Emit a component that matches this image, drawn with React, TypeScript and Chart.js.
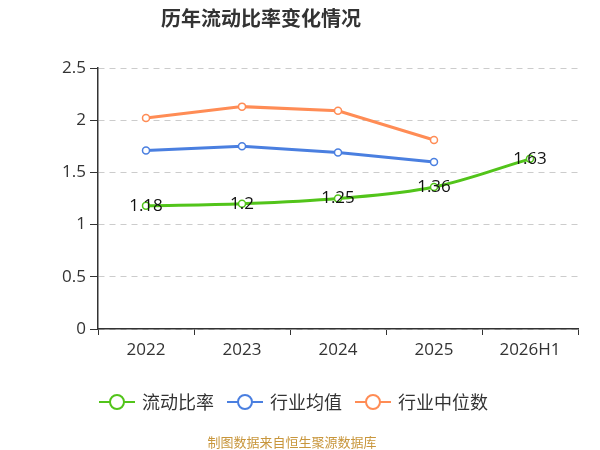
import { useEffect, useRef } from "react";
import { Chart, registerables } from "chart.js";

Chart.register(...registerables);

const years = ["2022", "2023", "2024", "2025", "2026H1"];
const currentRatio = [1.18, 1.2, 1.25, 1.36, 1.63];
const industryMean = [1.71, 1.75, 1.69, 1.6, null];
const industryMedian = [2.02, 2.13, 2.09, 1.81, null];
const yTicks = [0, 0.5, 1, 1.5, 2, 2.5];

const GREEN = "#52c41a";
const BLUE = "#4a7fe0";
const ORANGE = "#ff8c55";
const FONT = "'Open Sans', 'Noto Sans CJK SC', sans-serif";
const CJK = "'Noto Sans CJK SC', sans-serif";

const decorations = {
  id: "decorations",
  afterDatasetsDraw(chart: any) {
    const ctx = chart.ctx;
    // value labels on the main series
    const meta = chart.getDatasetMeta(0);
    ctx.save();
    ctx.font = `17px ${FONT}`;
    ctx.fillStyle = "#111";
    ctx.textAlign = "center";
    ctx.textBaseline = "middle";
    meta.data.forEach((pt: any, i: number) => {
      ctx.fillText(String(currentRatio[i]), pt.x, pt.y);
    });
    ctx.restore();
  },
  afterDraw(chart: any) {
    const ctx = chart.ctx;
    ctx.save();
    // title
    ctx.font = `bold 20px ${CJK}`;
    ctx.fillStyle = "#333";
    ctx.textAlign = "center";
    ctx.textBaseline = "middle";
    ctx.fillText("历年流动比率变化情况", 261, 18);

    // legend
    const items = [
      { label: "流动比率", color: GREEN, x: 99 },
      { label: "行业均值", color: BLUE, x: 227 },
      { label: "行业中位数", color: ORANGE, x: 355 },
    ];
    const ly = 402;
    items.forEach((it) => {
      ctx.strokeStyle = it.color;
      ctx.lineWidth = 2;
      ctx.beginPath();
      ctx.moveTo(it.x, ly);
      ctx.lineTo(it.x + 36, ly);
      ctx.stroke();
      ctx.beginPath();
      ctx.arc(it.x + 18, ly, 7, 0, Math.PI * 2);
      ctx.fillStyle = "#fff";
      ctx.fill();
      ctx.stroke();
      ctx.font = `18px ${CJK}`;
      ctx.fillStyle = "#333";
      ctx.textAlign = "left";
      ctx.fillText(it.label, it.x + 43, ly);
    });

    // footer
    ctx.font = `13px ${CJK}`;
    ctx.fillStyle = "#c8963c";
    ctx.textAlign = "center";
    ctx.fillText("制图数据来自恒生聚源数据库", 292, 442);
    ctx.restore();
  },
};

export default function App() {
  const canvasRef = useRef<HTMLCanvasElement>(null);
  const chartRef = useRef<Chart | null>(null);

  useEffect(() => {
    document.body.style.margin = "0";
    if (!canvasRef.current) return;
    if (chartRef.current) chartRef.current.destroy();
    const ctx = canvasRef.current.getContext("2d");
    if (!ctx) return;

    const pointCommon = {
      pointRadius: 3.5,
      pointHoverRadius: 4,
      pointBackgroundColor: "#fff",
      pointBorderWidth: 1.5,
      borderWidth: 3,
    };

    chartRef.current = new Chart(ctx, {
      type: "line",
      data: {
        labels: years,
        datasets: [
          {
            label: "流动比率",
            data: currentRatio,
            borderColor: GREEN,
            pointBorderColor: GREEN,
            tension: 0.35,
            ...pointCommon,
          },
          {
            label: "行业均值",
            data: industryMean,
            borderColor: BLUE,
            pointBorderColor: BLUE,
            tension: 0,
            ...pointCommon,
          },
          {
            label: "行业中位数",
            data: industryMedian,
            borderColor: ORANGE,
            pointBorderColor: ORANGE,
            tension: 0,
            ...pointCommon,
          },
        ],
      },
      options: {
        responsive: false,
        animation: false,
        layout: { padding: { top: 68, right: 22, bottom: 81, left: 0 } },
        plugins: {
          legend: { display: false },
          title: { display: false },
          tooltip: { enabled: false },
        },
        scales: {
          x: {
            offset: true,
            afterFit: (scale: any) => {
              scale.height = 40;
            },
            grid: {
              drawOnChartArea: false,
              offset: true,
              tickLength: 6,
              color: "#333",
            },
            border: { color: "#333", width: 1.5 },
            ticks: {
              color: "#333",
              font: { size: 17, family: FONT },
              padding: 5,
              maxRotation: 0,
            },
          },
          y: {
            min: 0,
            max: 2.5,
            afterFit: (scale: any) => {
              scale.width = 98;
            },
            afterBuildTicks: (scale: any) => {
              scale.ticks = yTicks.map((v) => ({ value: v }));
            },
            grid: {
              color: "#cccccc",
              tickColor: "#333",
              tickLength: 8,
              tickBorderDash: [],
            },
            border: { color: "#333", width: 1.5, dash: [6, 5] },
            ticks: {
              color: "#333",
              font: { size: 17, family: FONT },
              padding: 4,
              callback: (v: any) => String(Number(v)),
            },
          },
        },
      },
      plugins: [decorations],
    });

    return () => {
      if (chartRef.current) {
        chartRef.current.destroy();
        chartRef.current = null;
      }
    };
  }, []);

  return <canvas ref={canvasRef} width={600} height={450}></canvas>;
}
